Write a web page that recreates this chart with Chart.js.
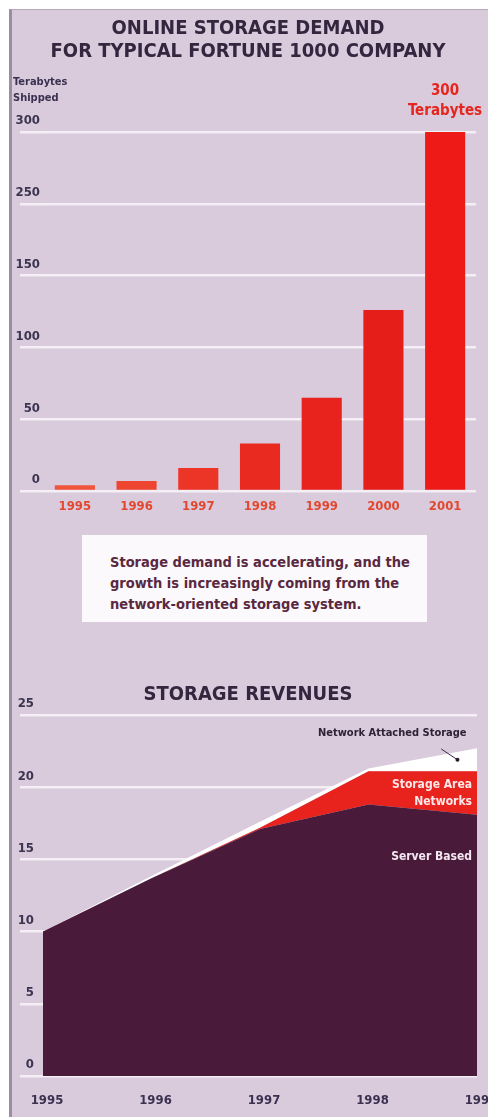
<!DOCTYPE html>
<html>
<head>
<meta charset="utf-8">
<script src="https://cdn.jsdelivr.net/npm/chart.js@4.4.1/dist/chart.umd.min.js"></script>
<style>
  html, body { margin:0; padding:0; background:#fff; }
  body { width:488px; height:1117px; position:relative; overflow:hidden;
         font-family:"DejaVu Sans Condensed", "DejaVu Sans", sans-serif; }
  #frame { position:absolute; left:9px; top:9px; right:0; bottom:0; background:#d9cbdc;
           border-left:3px solid #9b8da1; border-top:1px solid #b6a8ba; }
  canvas { position:absolute; left:0; }
  .t { position:absolute; font-weight:bold; white-space:nowrap; z-index:2; }
  .title { left:0; width:496px; text-align:center; color:#33263e; font-size:20px; }
  #note { position:absolute; left:82px; top:535px; width:345px; height:87px; background:#fbf9fb;
          box-sizing:border-box; padding:17px 0 0 28px; color:#5a2840; font-size:14.5px;
          line-height:21px; font-weight:bold; z-index:2; }
</style>
</head>
<body>
<div id="frame"></div>

<div class="t title" style="top:15px;">ONLINE STORAGE DEMAND</div>
<div class="t title" style="top:38px;">FOR TYPICAL FORTUNE 1000 COMPANY</div>
<div class="t" style="left:13px; top:74px; font-size:11px; line-height:16px; color:#3a3050;">Terabytes<br>Shipped</div>
<div class="t" style="left:400px; width:90px; top:80px; font-size:15px; line-height:20px; color:#e4261e; text-align:center;">300<br>Terabytes</div>

<canvas id="demandChart" width="488" height="530" style="top:0;"></canvas>

<div id="note">Storage demand is accelerating, and the<br>growth is increasingly coming from the<br>network-oriented storage system.</div>

<div class="t title" style="top:681px;">STORAGE REVENUES</div>
<div class="t" style="left:318px; top:726px; font-size:11px; color:#2e2236;">Network Attached Storage</div>
<div class="t" style="right:16px; top:776px; font-size:12px; line-height:17px; color:#ffe8ea; text-align:right;">Storage Area<br>Networks</div>
<div class="t" style="right:16px; top:849px; font-size:12px; color:#f4e8f0;">Server Based</div>

<canvas id="revenueChart" width="488" height="457" style="top:660px;"></canvas>

<script>
// ONLINE STORAGE DEMAND (terabytes shipped)
const demandYears = ["1995", "1996", "1997", "1998", "1999", "2000", "2001"];
const demandValues = [4, 7, 16, 33, 65, 126, 300];
const demandTicks = [0, 50, 100, 150, 250, 300];   // axis as printed (200 is skipped)

// STORAGE REVENUES
const revenueYears = [1995, 1996, 1997, 1998, 1999];
const serverBased = [10, 13.7, 17.1, 18.8, 18.1];
const storageAreaNetworks = [0, 0, 0.1, 2.3, 3.0];
const networkAttached = [0, 0.15, 0.4, 0.2, 1.6];
const revenueTicks = [0, 5, 10, 15, 20, 25];

const FONT = "DejaVu Sans Condensed";
const gridWhite = "#f4eef5";

// value axis with the printed break: each tick label sits on an evenly spaced line
class BrokenScale extends Chart.LinearScale {
  buildTicks(){
    this.start = this.min;
    this.end = this.max;
    return demandTicks.map(v => ({ value: v }));
  }
  getPixelForValue(value){
    const t = demandTicks;
    let i = 0;
    while(i < t.length - 2 && value > t[i + 1]) i++;
    const f = (i + (value - t[i]) / (t[i + 1] - t[i])) / (t.length - 1);
    return this.getPixelForDecimal(f);
  }
}
BrokenScale.id = "broken";
Chart.register(BrokenScale);

function noPad(scale){
  scale.paddingLeft = 0; scale.paddingRight = 0;
  scale.paddingTop = 0; scale.paddingBottom = 0;
}

// TOP CHART
new Chart(document.getElementById("demandChart"), {
  type: "bar",
  data: {
    labels: demandYears,
    datasets: [{
      data: demandValues,
      backgroundColor: ["#f0553c", "#ee4530", "#ec3526", "#e92a20", "#e8221c", "#e61e1a", "#ee1a18"],
      borderWidth: 0,
      barPercentage: 0.65,
      categoryPercentage: 1
    }]
  },
  options: {
    responsive: false,
    animation: false,
    layout: { padding: { top: 132, left: 12, right: 12, bottom: 9 } },
    plugins: { legend: { display: false }, tooltip: { enabled: false } },
    scales: {
      x: {
        grid: { display: false, drawTicks: false },
        border: { display: false },
        ticks: { color: "#e2472f", font: { family: FONT, size: 13, weight: "bold" }, padding: 8 },
        afterFit: s => { s.height = 30; noPad(s); }
      },
      y: {
        type: "broken",
        min: 0,
        max: 300,
        grid: { color: gridWhite, lineWidth: 2.5, drawTicks: true, tickLength: 24, tickColor: gridWhite },
        border: { display: false },
        ticks: {
          color: "#3b3450",
          font: { family: FONT, size: 13, weight: "bold" },
          padding: -20,
          labelOffset: -11,
          callback: v => String(v)
        },
        afterFit: s => { s.width = 32; noPad(s); }
      }
    }
  }
});

// leader line for the Network Attached Storage label
const leaderLine = {
  id: "leaderLine",
  afterDatasetsDraw(chart){
    const x = chart.scales.x, y = chart.scales.y, ctx = chart.ctx;
    const x1 = x.getPixelForValue(1998.67), y1 = y.getPixelForValue(22.65);
    const x2 = x.getPixelForValue(1998.82), y2 = y.getPixelForValue(21.9);
    ctx.save();
    ctx.strokeStyle = "#3a2a40";
    ctx.lineWidth = 1;
    ctx.beginPath(); ctx.moveTo(x1, y1); ctx.lineTo(x2, y2); ctx.stroke();
    ctx.fillStyle = "#2a1a30";
    ctx.beginPath(); ctx.arc(x2, y2, 2, 0, Math.PI * 2); ctx.fill();
    ctx.restore();
  }
};

// BOTTOM CHART
new Chart(document.getElementById("revenueChart"), {
  type: "line",
  data: {
    labels: revenueYears,
    datasets: [
      { data: serverBased, fill: "origin", backgroundColor: "#4a1a3a", borderWidth: 0, pointRadius: 0, tension: 0 },
      { data: storageAreaNetworks, fill: "-1", backgroundColor: "#e8221c", borderWidth: 0, pointRadius: 0, tension: 0 },
      { data: networkAttached, fill: "-1", backgroundColor: "#ffffff", borderWidth: 0, pointRadius: 0, tension: 0 }
    ]
  },
  options: {
    responsive: false,
    animation: false,
    layout: { padding: { top: 55, left: 12, right: 11, bottom: 11 } },
    plugins: { legend: { display: false }, tooltip: { enabled: false } },
    scales: {
      x: {
        type: "linear",
        min: 1995,
        max: 1999,
        grid: { display: false, drawTicks: false },
        border: { display: false },
        ticks: {
          stepSize: 1,
          color: "#3a3050",
          font: { family: FONT, size: 13, weight: "bold" },
          padding: 17,
          labelOffset: 4,
          callback: v => String(v)
        },
        afterFit: s => { s.height = 30; noPad(s); }
      },
      y: {
        stacked: true,
        min: 0,
        max: 25,
        grid: { color: gridWhite, lineWidth: 2.5, drawTicks: true, tickLength: 23, tickColor: gridWhite },
        border: { display: false },
        ticks: {
          stepSize: 5,
          color: "#3b3450",
          font: { family: FONT, size: 13, weight: "bold" },
          padding: -14,
          labelOffset: -11,
          callback: v => String(v)
        },
        afterFit: s => { s.width = 31; noPad(s); }
      }
    }
  },
  plugins: [leaderLine]
});
</script>
</body>
</html>
